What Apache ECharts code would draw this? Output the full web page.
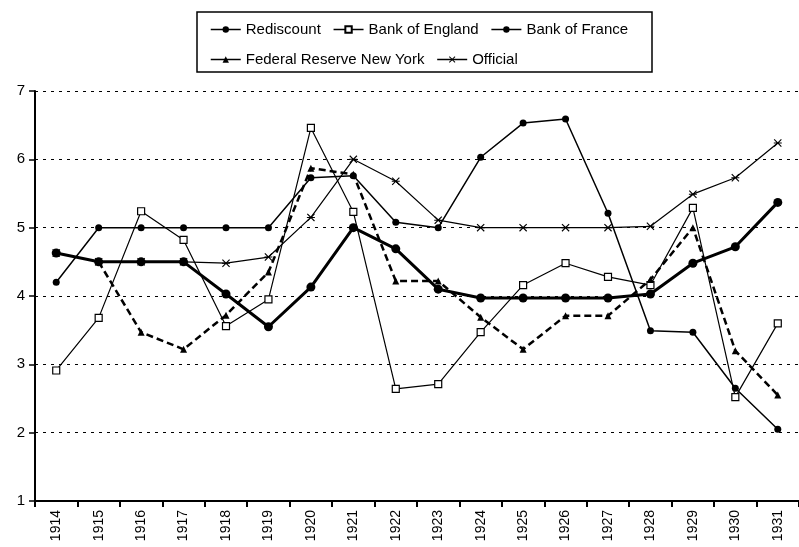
<!DOCTYPE html>
<html>
<head>
<meta charset="utf-8">
<script src="https://cdn.jsdelivr.net/npm/echarts@6/dist/echarts.min.js"></script>
<style>
  html, body { margin: 0; padding: 0; background: #fff; }
  #chart { width: 799px; height: 547px; }
</style>
</head>
<body>
<div id="chart"></div>
<script>
  // data
  const years = ['1914', '1915', '1916', '1917', '1918', '1919', '1920', '1921', '1922',
    '1923', '1924', '1925', '1926', '1927', '1928', '1929', '1930', '1931'];
  const rediscount = [4.63, 4.5, 4.5, 4.5, 4.03, 3.55, 4.13, 5.0, 4.69, 4.1, 3.97, 3.97, 3.97, 3.97, 4.03, 4.48, 4.72, 5.37];
  const bankOfEngland = [2.91, 3.68, 5.24, 4.82, 3.56, 3.95, 6.46, 5.23, 2.64, 2.71, 3.47, 4.16, 4.48, 4.28, 4.16, 5.29, 2.52, 3.6];
  const bankOfFrance = [4.2, 5.0, 5.0, 5.0, 5.0, 5.0, 5.73, 5.76, 5.08, 5.0, 6.03, 6.53, 6.59, 5.21, 3.49, 3.47, 2.65, 2.05];
  const fedNewYork = [null, 4.5, 3.47, 3.22, 3.72, 4.35, 5.87, 5.78, 4.22, 4.22, 3.69, 3.22, 3.71, 3.71, 4.24, 5.0, 3.2, 2.55];
  const official = [4.63, 4.5, 4.5, 4.5, 4.48, 4.57, 5.15, 6.0, 5.68, 5.11, 5.0, 5.0, 5.0, 5.0, 5.02, 5.49, 5.73, 6.24];
  const yTicks = [1, 2, 3, 4, 5, 6, 7];

  const font = "'Liberation Sans', Arial, sans-serif";
  const star = 'path://M0,1L1,0L5,4L9,0L10,1L6,5L10,9L9,10L5,6L1,10L0,9L4,5Z M0,4.4L10,4.4L10,5.6L0,5.6Z';

  let myChart = echarts.init(document.getElementById('chart'));

  const legendCommon = {
    left: 205,
    itemWidth: 30,
    itemHeight: 8,
    itemGap: 12,
    textStyle: { fontSize: 15, color: '#000', fontFamily: font },
    lineStyle: { width: 1.5, type: 'solid', color: '#000' }
  };

  myChart.setOption({
    backgroundColor: '#fff',
    animation: false,
    textStyle: { fontFamily: font, color: '#000' },
    graphic: [{
      type: 'rect',
      shape: { x: 197, y: 12, width: 455, height: 60 },
      style: { fill: 'none', stroke: '#000', lineWidth: 1.5 }
    }],
    legend: [
      Object.assign({ top: 17, data: ['Rediscount', 'Bank of England', 'Bank of France'] }, legendCommon),
      Object.assign({ top: 47, data: ['Federal Reserve New York', 'Official'] }, legendCommon)
    ],
    grid: { left: 35, right: -3, top: 91, bottom: 46 },
    xAxis: {
      type: 'category',
      data: years,
      boundaryGap: true,
      axisLine: { lineStyle: { color: '#000', width: 2 } },
      axisTick: { show: true, length: 6, lineStyle: { color: '#000', width: 2 } },
      axisLabel: { rotate: 90, fontSize: 14, color: '#000', margin: 9, fontFamily: font },
      splitLine: { show: false }
    },
    yAxis: {
      type: 'value',
      min: yTicks[0],
      max: yTicks[yTicks.length - 1],
      interval: 1,
      axisLine: { show: true, lineStyle: { color: '#000', width: 2 } },
      axisTick: { show: true, length: 6, lineStyle: { color: '#000', width: 1.5 } },
      axisLabel: { fontSize: 15, color: '#000', margin: 10, fontFamily: font },
      splitLine: { show: true, lineStyle: { color: '#000', width: 1, type: [3, 5] } }
    },
    series: [{
      name: 'Bank of England',
      type: 'line',
      data: bankOfEngland,
      symbol: 'rect',
      symbolSize: 7,
      lineStyle: { color: '#000', width: 1.2 },
      itemStyle: { color: '#fff', borderColor: '#000', borderWidth: 1.2 },
      z: 2
    }, {
      name: 'Bank of France',
      type: 'line',
      data: bankOfFrance,
      symbol: 'circle',
      symbolSize: 7,
      showAllSymbol: true,
      lineStyle: { color: '#000', width: 1.5 },
      itemStyle: { color: '#000' },
      z: 3
    }, {
      name: 'Official',
      type: 'line',
      data: official,
      symbol: star,
      symbolSize: 8,
      lineStyle: { color: '#000', width: 1.2 },
      itemStyle: { color: '#000' },
      z: 3
    }, {
      name: 'Federal Reserve New York',
      type: 'line',
      data: fedNewYork,
      symbol: 'triangle',
      symbolSize: 7,
      lineStyle: { color: '#000', width: 2.5, type: [7, 4] },
      itemStyle: { color: '#000' },
      z: 4
    }, {
      name: 'Rediscount',
      type: 'line',
      data: rediscount,
      symbol: 'circle',
      symbolSize: 9,
      lineStyle: { color: '#000', width: 3 },
      itemStyle: { color: '#000' },
      z: 5
    }]
  });
</script>
</body>
</html>
